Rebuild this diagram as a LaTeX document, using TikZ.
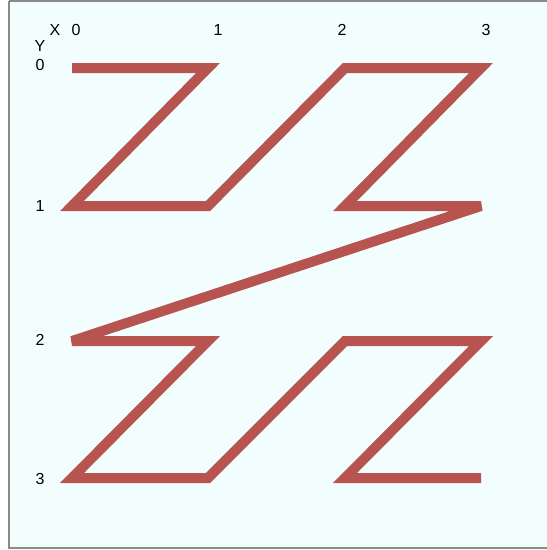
\documentclass[tikz,border=0pt]{standalone}
\usepackage{fontspec}
\setmainfont{Liberation Sans}
\definecolor{zline}{HTML}{B85450}
\definecolor{zbg}{HTML}{F2FEFE}
\definecolor{zframe}{HTML}{8A8A8A}
\begin{document}
\begin{tikzpicture}[x=1pt,y=-1pt,
  lbl/.style={font=\fontsize{16}{16}\selectfont, inner sep=0pt, anchor=center},
  zpath/.style={draw=zline, line width=10pt, line join=miter, miter limit=4, line cap=butt}]
\useasboundingbox (0,0) rectangle (547,550);
\fill[white] (0,0) rectangle (547,550);
\fill[zbg] (9,1) rectangle (560,548);
\draw[zframe, line width=2pt] (9,1) -- (560,1) (9,1) -- (9,548) -- (560,548);
% axis labels
\node[lbl] (lx) at (55,30) {X};
\node[lbl] (ly) at (40,46) {Y};
\node[lbl] (cx0) at (76,30) {0};
\node[lbl] (cx1) at (218,30) {1};
\node[lbl] (cx2) at (342,30) {2};
\node[lbl] (cx3) at (486,30) {3};
\node[lbl] (ry0) at (40,65) {0};
\node[lbl] (ry1) at (40,206) {1};
\node[lbl] (ry2) at (40,340) {2};
\node[lbl] (ry3) at (40,479) {3};
% grid points
\foreach \i/\x in {0/72,1/208,2/345,3/481}{
  \foreach \j/\y in {0/68,1/206,2/341,3/478}{
    \coordinate (g\i\j) at (\x,\y);
  }
}
\draw[zpath] (g00) -- (g10) -- (g01) -- (g11) -- (g20) -- (g30) -- (g21) -- (g31)
  -- (g02) -- (g12) -- (g03) -- (g13) -- (g22) -- (g32) -- (g23) -- (g33);
\end{tikzpicture}
\end{document}
